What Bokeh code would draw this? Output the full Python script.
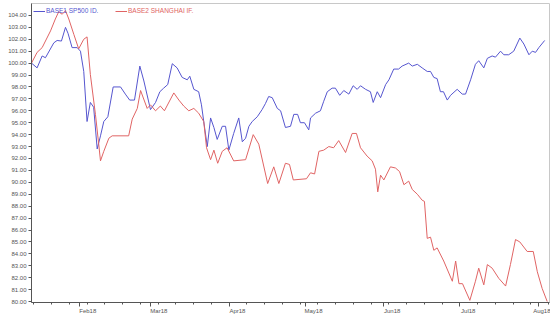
import pandas as pd
from bokeh.plotting import figure
from bokeh.models import (Range1d, FixedTicker, DatetimeTickFormatter, PrintfTickFormatter,
                          Legend, LegendItem)
from bokeh.embed import file_html
from bokeh.resources import INLINE

# ---- data (day offsets from 2018-01-01) ----
sp500_days = [12.1, 14.3, 16.3, 17.6, 20.9, 22.2, 23.9, 25.5, 26.5, 28.1, 30.1, 31.4, 32.7, 34.0,
              35.3, 36.6, 38.0, 39.3, 40.6, 42.2, 44.3, 47.2, 49.1, 50.8, 52.7, 54.8, 56.4, 59.0,
              61.0, 62.7, 64.2, 65.8, 67.6, 69.5, 71.5, 73.5, 74.5, 76.1, 78.0, 79.1, 80.0, 81.4,
              82.7, 84.0, 85.3, 87.3, 88.6, 89.9, 91.8, 93.8, 95.2, 96.5, 97.8, 99.1, 101.1, 103.0,
              104.3, 105.6, 107.0, 109.0, 110.3, 112.2, 114.2, 115.5, 117.0, 118.1, 119.7, 121.4,
              122.1, 124.1, 126.0, 127.3, 128.7, 130.6, 131.9, 133.6, 135.2, 137.2, 138.9, 140.5,
              141.8, 143.8, 145.7, 146.8, 148.4, 149.7, 151.7, 153.0, 154.9, 156.8, 158.2, 160.8,
              162.2, 164.2, 166.1, 168.1, 169.4, 170.7, 172.0, 173.3, 174.5, 176.0, 177.3, 179.9,
              181.9, 183.2, 185.2, 187.1, 188.4, 190.4, 191.8, 193.7, 195.0, 197.0, 198.3, 200.2,
              202.2, 204.6, 206.2, 208.2, 209.5, 210.8, 212.1, 214.4]
sp500_vals = [100.0, 99.6, 100.6, 100.45, 101.7, 101.9, 101.85, 103.0, 102.5, 101.3, 101.3, 101.0,
              99.3, 95.1, 96.7, 96.3, 92.8, 93.9, 95.1, 95.5, 98.0, 98.0, 97.4, 96.9, 96.9, 99.75,
              98.5, 96.1, 96.7, 97.6, 97.9, 98.2, 99.95, 99.6, 98.8, 98.6, 98.9, 97.8, 97.6, 96.5,
              95.1, 93.0, 95.4, 94.6, 93.6, 94.7, 94.7, 92.7, 94.1, 95.4, 93.4, 93.7, 94.7, 95.1,
              95.5, 96.1, 96.6, 97.2, 97.1, 96.2, 96.0, 94.6, 94.7, 95.7, 95.7, 95.0, 95.0, 94.4,
              95.4, 95.8, 96.0, 96.8, 97.6, 97.9, 97.9, 97.3, 97.7, 97.4, 98.1, 97.8, 98.1, 97.8,
              97.6, 96.7, 97.6, 97.1, 98.2, 98.6, 99.5, 99.5, 99.75, 100.0, 99.75, 99.9, 99.6, 99.3,
              99.3, 98.8, 98.7, 97.6, 97.6, 96.9, 97.3, 97.8, 97.4, 97.4, 98.6, 99.9, 100.2, 99.6,
              100.4, 100.6, 100.5, 101.0, 100.7, 100.7, 101.0, 102.1, 101.6, 100.7, 101.0, 100.9,
              101.3, 101.9]

shanghai_days = [12.1, 14.3, 16.3, 19.6, 21.5, 22.8, 24.2, 25.5, 26.8, 28.8, 30.7, 32.7, 34.0, 35.3,
                 37.3, 38.6, 39.3, 40.6, 42.6, 43.9, 50.4, 51.8, 53.8, 55.1, 57.7, 59.0, 61.0, 62.9,
                 64.5, 68.2, 70.2, 72.1, 74.1, 76.1, 78.0, 80.0, 81.1, 82.7, 84.0, 85.5, 87.3, 89.2,
                 91.8, 96.5, 99.5, 101.7, 105.2, 107.6, 109.6, 112.2, 113.8, 115.3, 120.5, 122.1,
                 123.7, 125.4, 127.3, 129.3, 131.2, 133.2, 135.9, 138.5, 140.2, 141.8, 144.4, 146.4,
                 147.7, 148.6, 149.7, 151.0, 153.6, 155.6, 157.2, 158.9, 160.8, 162.2, 164.2, 166.1,
                 167.0, 168.1, 169.4, 170.7, 172.0, 174.6, 178.0, 179.3, 180.6, 182.0, 184.9, 187.1,
                 188.4, 190.4, 191.8, 193.7, 196.3, 199.0, 200.9, 202.9, 204.6, 207.5, 209.9, 211.5,
                 213.4, 215.4]
shanghai_vals = [100.0, 100.9, 101.3, 102.7, 103.7, 104.3, 104.1, 104.4, 103.7, 102.4, 101.2, 102.0,
                 102.2, 99.05, 95.7, 93.2, 91.8, 92.6, 93.7, 93.9, 93.9, 95.3, 96.2, 97.7, 96.2, 96.5,
                 96.0, 96.4, 96.0, 97.5, 96.9, 96.4, 96.0, 96.2, 95.8, 95.1, 92.9, 91.9, 92.7, 91.6,
                 92.6, 92.9, 91.8, 91.9, 94.0, 93.2, 89.9, 91.3, 89.9, 91.6, 91.5, 90.2, 90.3, 90.8,
                 90.7, 92.6, 92.7, 93.0, 92.9, 93.5, 92.5, 94.1, 94.1, 92.9, 92.2, 91.8, 91.1, 89.2,
                 90.6, 90.2, 91.3, 91.2, 90.9, 89.8, 90.1, 89.4, 89.0, 88.5, 88.4, 85.3, 85.4, 84.3,
                 84.5, 83.4, 81.7, 83.4, 81.5, 81.5, 80.1, 81.7, 82.8, 81.4, 83.1, 82.8, 81.95, 81.3,
                 83.1, 85.2, 85.0, 84.2, 84.2, 82.5, 81.1, 80.0]

series_labels = ["BASE1 SP500 ID.", "BASE2 SHANGHAI IF."]
month_ticks = ["2018-02-01", "2018-03-01", "2018-04-01", "2018-05-01", "2018-06-01",
               "2018-07-01", "2018-08-01"]
y_ticks = list(range(80, 105))

# ---- build ----
base = pd.Timestamp("2018-01-01")
sp_x = base + pd.to_timedelta(sp500_days, unit="D")
sh_x = base + pd.to_timedelta(shanghai_days, unit="D")

BLUE = "#5656cf"
RED = "#e06464"

p = figure(width=550, height=317, x_axis_type="datetime", output_backend="svg",
           toolbar_location=None,
           x_range=Range1d(base + pd.Timedelta(days=12.1), base + pd.Timedelta(days=216.3)),
           y_range=Range1d(79.92, 105.0),
           min_border_left=31, min_border_right=1, min_border_top=3, min_border_bottom=15)
p.background_fill_color = "white"
p.border_fill_color = "white"
p.outline_line_color = "#c8c8c8"
p.grid.visible = False

r1 = p.line(sp_x, sp500_vals, color=BLUE, line_width=1.0)
r2 = p.line(sh_x, shanghai_vals, color=RED, line_width=1.0)

def to_ms(s):
    return pd.Timestamp(s).value / 1e6

weeks = pd.date_range("2018-01-14", "2018-08-05", freq="W-SUN")
p.xaxis.ticker = FixedTicker(ticks=[to_ms(m) for m in month_ticks],
                             minor_ticks=[w.value / 1e6 for w in weeks])
# labels start at their tick, as in the reference (centered label padded on the left)
fmt = "\u00a0" * 10 + "%b%y"
p.xaxis.formatter = DatetimeTickFormatter(milliseconds=fmt, seconds=fmt, minsec=fmt, minutes=fmt,
                                          hourmin=fmt, hours=fmt, days=fmt, months=fmt, years=fmt)
p.yaxis.ticker = FixedTicker(ticks=y_ticks)
p.yaxis.formatter = PrintfTickFormatter(format="%.2f")

for ax in (p.xaxis[0], p.yaxis[0]):
    ax.axis_line_color = "#555555"
    ax.major_tick_line_color = "#555555"
    ax.minor_tick_line_color = "#555555"
    ax.major_label_text_font = "Liberation Sans"
    ax.major_label_text_font_size = "6px"
    ax.major_label_text_color = "#555555"
    ax.major_label_standoff = 2
p.xaxis.major_tick_out = 4
p.xaxis.major_tick_in = 0
p.xaxis.minor_tick_out = 2
p.xaxis.minor_tick_in = 0
p.xaxis.major_label_standoff = 1
p.yaxis.major_tick_out = 3
p.yaxis.major_tick_in = 0
p.yaxis.minor_tick_out = 0
p.yaxis.minor_tick_in = 0

for i, (lab, r, col) in enumerate([(series_labels[0], r1, BLUE), (series_labels[1], r2, RED)]):
    lg = Legend(items=[LegendItem(label=lab, renderers=[r])],
                location=(2, 288) if i == 0 else (84, 288),
                orientation="horizontal", margin=0, padding=0,
                glyph_width=12, glyph_height=6, label_height=6, label_standoff=1,
                label_text_font="Liberation Sans", label_text_font_size="6.5px",
                label_text_color=col, background_fill_alpha=0, border_line_alpha=0)
    p.add_layout(lg)

open("out.html", "w").write(file_html(p, INLINE))
